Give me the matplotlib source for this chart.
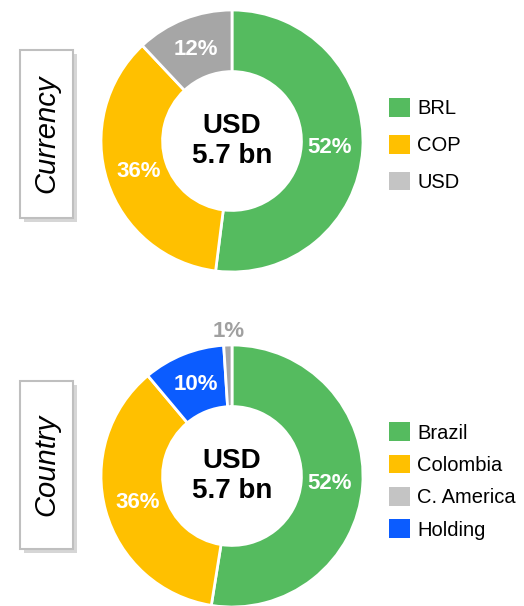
import numpy as np
import matplotlib.pyplot as plt
from matplotlib.patches import Patch, FancyBboxPatch

plt.rcParams['font.family'] = ['Liberation Sans', 'DejaVu Sans']

# data
cur_labels = ["BRL", "COP", "USD"]
cur_values = [52, 36, 12]
cur_colors = ["#55BB5F", "#FFC000", "#A6A6A6"]
cur_legend_colors = ["#55BB5F", "#FFC000", "#C4C4C4"]

cty_labels = ["Brazil", "Colombia", "Holding", "C. America"]
cty_values = [52, 36, 10, 1]
cty_colors = ["#55BB5F", "#FFC000", "#0B5CFF", "#A6A6A6"]
cty_legend_order = ["Brazil", "Colombia", "C. America", "Holding"]
cty_legend_colors = ["#55BB5F", "#FFC000", "#C4C4C4", "#0B5CFF"]

center_text = "USD\n5.7 bn"
W, H = 524, 606
R = 131   # outer radius in px

fig = plt.figure(figsize=(W / 100, H / 100), dpi=100, facecolor='w')


def donut(cx, cy, values, colors, outside=()):
    lim = 1.15
    size = 2 * lim * R
    ax = fig.add_axes([(cx - size / 2) / W, 1 - (cy + size / 2) / H, size / W, size / H])
    wedges, _ = ax.pie(values, colors=colors, startangle=90, counterclock=False,
                       radius=1.0, wedgeprops=dict(width=0.47, edgecolor='w', linewidth=2))
    ax.set_xlim(-lim, lim)
    ax.set_ylim(-lim, lim)
    ax.set_aspect('equal')
    ax.axis('off')
    for w, v in zip(wedges, values):
        ang = np.deg2rad((w.theta1 + w.theta2) / 2)
        if v in outside:
            ax.text(1.12 * np.cos(ang) + 0.01, 1.1 * np.sin(ang), "%d%%" % v, color="#A0A0A0",
                    fontsize=16, fontweight='bold', ha='center', va='center')
        else:
            ax.text(0.75 * np.cos(ang), 0.75 * np.sin(ang), "%d%%" % v, color='w',
                    fontsize=16, fontweight='bold', ha='center', va='center')
    ax.text(0, 0, center_text, fontsize=20, fontweight='bold', ha='center', va='center',
            linespacing=1.2)
    return ax


def side_box(y0, y1, text):
    x0, x1 = 20, 73
    shadow = FancyBboxPatch(((x0 + 4) / W, 1 - (y1 + 4) / H), (x1 - x0) / W, (y1 - y0) / H,
                            boxstyle="square,pad=0", transform=fig.transFigure,
                            facecolor="#BBBBBB", edgecolor='none', alpha=0.6)
    box = FancyBboxPatch((x0 / W, 1 - y1 / H), (x1 - x0) / W, (y1 - y0) / H,
                         boxstyle="square,pad=0", transform=fig.transFigure,
                         facecolor='w', edgecolor="#BFBFBF", linewidth=1.5)
    fig.patches.extend([shadow, box])
    fig.text((x0 + x1) / 2 / W, 1 - (y0 + y1) / 2 / H, text, rotation=90, style='italic',
             fontsize=21, ha='center', va='center')


donut(232, 141, cur_values, cur_colors)
donut(232, 476, cty_values, cty_colors, outside=(1,))

side_box(50, 218, "Currency")
side_box(381, 549, "Country")

h1 = [Patch(facecolor=c, edgecolor='none') for c in cur_legend_colors]
fig.legend(h1, cur_labels, loc='center left', bbox_to_anchor=(379 / W, 1 - 145 / H),
           frameon=False, fontsize=14.5, handlelength=1.05, handleheight=1.05,
           handletextpad=0.35, labelspacing=0.82, borderpad=0)

h2 = [Patch(facecolor=c, edgecolor='none') for c in cty_legend_colors]
fig.legend(h2, cty_legend_order, loc='center left', bbox_to_anchor=(379 / W, 1 - 481 / H),
           frameon=False, fontsize=14.5, handlelength=1.05, handleheight=1.05,
           handletextpad=0.35, labelspacing=0.6, borderpad=0)

fig.savefig("out.png", dpi=100, facecolor='w')
